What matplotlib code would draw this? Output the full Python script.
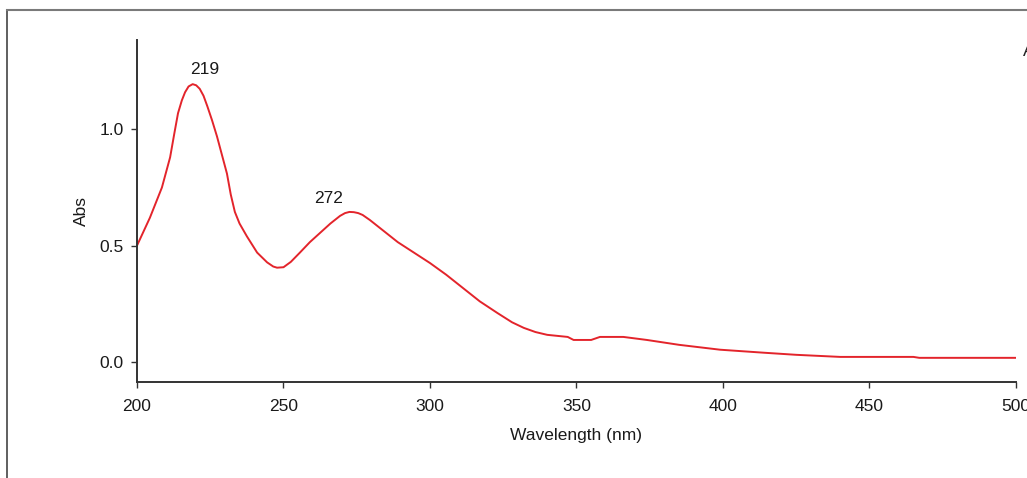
import matplotlib
matplotlib.use("Agg")
import matplotlib.pyplot as plt
from matplotlib.lines import Line2D

plt.rcParams["font.family"] = ["Liberation Sans", "DejaVu Sans"]

# spectrum
wavelength = [200, 204.4, 208.5, 211.3, 212.7, 214, 215.3, 216.4, 217.6, 219,
              220.2, 221.4, 222.7, 224, 225.6, 227.3, 229, 230.7, 232, 233.4,
              235, 237.5, 241, 244.4, 246.5, 247.8, 250, 252.5, 255.6, 259,
              262.5, 266, 269.3, 271, 272.5, 274, 275.5, 277, 279.5, 282,
              285.5, 289, 294.5, 300, 305.5, 311, 317, 323, 328, 332,
              336, 340, 347, 349, 355, 358, 366, 374, 385, 399,
              414, 425, 440, 465, 467, 500]
absorbance = [0.50, 0.62, 0.75, 0.88, 0.98, 1.07, 1.125, 1.16, 1.185, 1.195,
              1.19, 1.175, 1.145, 1.10, 1.04, 0.97, 0.89, 0.81, 0.72, 0.645,
              0.595, 0.54, 0.47, 0.428, 0.41, 0.405, 0.407, 0.43, 0.47, 0.515,
              0.555, 0.595, 0.628, 0.64, 0.645, 0.644, 0.64, 0.632, 0.61, 0.585,
              0.55, 0.515, 0.47, 0.425, 0.375, 0.32, 0.26, 0.21, 0.17, 0.146,
              0.128, 0.116, 0.107, 0.094, 0.094, 0.107, 0.107, 0.094, 0.073, 0.052,
              0.039, 0.030, 0.021, 0.021, 0.017, 0.017]

peak_labels = ["219", "272"]
peak_x = [219, 272.5]
peak_y = [1.195, 0.645]
peak_offsets = [(9, 5), (-15, 4)]

x_ticks = [200, 250, 300, 350, 400, 450, 500]
y_ticks = [0.0, 0.5, 1.0]

FS = 12.5

W, H = 1027, 478
fig = plt.figure(figsize=(W / 100, H / 100), dpi=100)
ax = fig.add_axes([137 / W, 1 - 382 / H, (1016 - 137) / W, (382 - 40) / H])

ax.plot(wavelength, absorbance, color="#e3242b", lw=1.4)

for lab, px, py, off in zip(peak_labels, peak_x, peak_y, peak_offsets):
    ax.annotate(lab, (px, py), xytext=off, textcoords="offset points",
                ha="center", va="bottom", fontsize=FS, color="#1a1a1a")

ax.set_xlim(200, 500)
ax.set_ylim(-0.087, 1.385)
ax.set_xticks(x_ticks)
ax.set_yticks(y_ticks)
ax.set_yticklabels([f"{v:.1f}" for v in y_ticks])

for s in ["top", "right"]:
    ax.spines[s].set_visible(False)
for s in ["left", "bottom"]:
    ax.spines[s].set_color("#333333")
    ax.spines[s].set_linewidth(1.4)

ax.tick_params(axis="both", direction="out", length=4, width=1,
               colors="#333333", labelsize=FS, labelcolor="#1a1a1a")
ax.tick_params(axis="x", pad=8.5)
ax.tick_params(axis="y", pad=5.5)

ax.set_xlabel("Wavelength (nm)", fontsize=FS, color="#1a1a1a", labelpad=9.5)
ax.set_ylabel("Abs", fontsize=FS, color="#1a1a1a", labelpad=7.5)

# outer frame of the original panel
fig.add_artist(Line2D([7 / W, 7 / W], [0, 1 - 10 / H], transform=fig.transFigure,
                      color="#444444", lw=1.2))
fig.add_artist(Line2D([7 / W, 1], [1 - 10 / H, 1 - 10 / H], transform=fig.transFigure,
                      color="#7a7a7a", lw=1.5))
fig.text(1023 / W, 1 - 52 / H, "A", fontsize=FS, color="#222222", va="center")

fig.savefig("out.png", dpi=100)
